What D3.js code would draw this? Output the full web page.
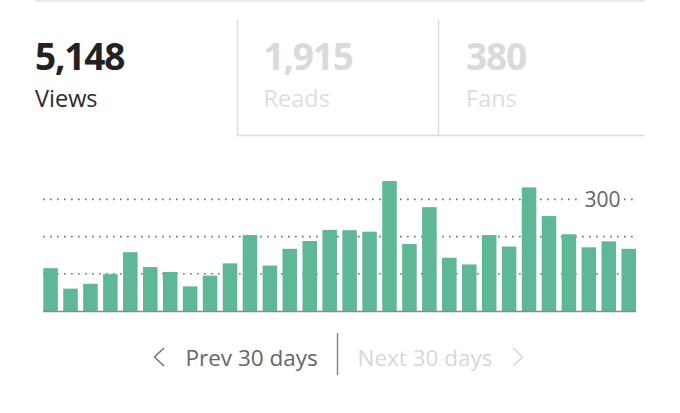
<!DOCTYPE html>
<html>
<head>
<meta charset="utf-8">
<script src="https://cdn.jsdelivr.net/npm/d3@7"></script>
<style>
  html, body { margin: 0; padding: 0; background: #fff; }
  svg { display: block; font-family: "Open Sans", "Noto Sans", sans-serif; }
</style>
</head>
<body>
<svg id="chart" width="680" height="413"></svg>
<script>
// ---- data ----
const days = [1,2,3,4,5,6,7,8,9,10,11,12,13,14,15,16,17,18,19,20,21,22,23,24,25,26,27,28,29,30];
const views = [115,60,73,99,158,118,105,66,95,128,204,122,167,188,218,217,213,349,180,279,143,125,204,173,332,255,206,171,187,167];
const gridTicks = [100, 200, 300];
const labeledTicks = [300];
const statValues = ["5,148", "1,915", "380"];
const statLabels = ["Views", "Reads", "Fans"];
const activeStat = 0;
const navLabels = ["Prev 30 days", "Next 30 days"];

// ---- layout ----
const svg = d3.select("#chart");

// top rule
svg.append("line").attr("x1", 35).attr("x2", 645).attr("y1", 1).attr("y2", 1)
  .attr("stroke", "#e2e2e2").attr("stroke-width", 1.5);

// stat boxes
const boxX = [35, 263.5, 466];
const divX = [237.5, 438.5];
divX.forEach(x => {
  svg.append("line").attr("x1", x).attr("x2", x).attr("y1", 20).attr("y2", 136)
    .attr("stroke", "#dcdcdc").attr("stroke-width", 1.5);
});
svg.append("line").attr("x1", 237.5).attr("x2", 645).attr("y1", 135.5).attr("y2", 135.5)
  .attr("stroke", "#dcdcdc").attr("stroke-width", 1.5);

statValues.forEach((v, i) => {
  const active = i === activeStat;
  svg.append("text").attr("x", boxX[i]).attr("y", 70)
    .attr("font-size", 37).attr("font-weight", 700)
    .attr("letter-spacing", -1.2)
    .attr("fill", active ? "#222" : "#dadada").text(v);
  svg.append("text").attr("x", boxX[i]).attr("y", 107)
    .attr("font-size", 23.5)
    .attr("fill", active ? "#2a2a2a" : "#dedede").text(statLabels[i]);
});

// chart
const x = d3.scaleBand().domain(days).range([43.3, 636]).paddingInner(0.27).paddingOuter(0);
const y = d3.scaleLinear().domain([0, 300]).range([311, 199.3]);

const grid = svg.append("g");
grid.selectAll("line").data(gridTicks).join("line")
  .attr("x1", 43).attr("x2", 636)
  .attr("y1", d => y(d)).attr("y2", d => y(d))
  .attr("stroke", "#777").attr("stroke-width", 1.7)
  .attr("stroke-dasharray", "1.7 5.3")
  .attr("stroke-linecap", "butt");

svg.append("g").selectAll("rect").data(views).join("rect")
  .attr("x", (d, i) => x(days[i]))
  .attr("width", x.bandwidth())
  .attr("y", d => y(d))
  .attr("height", d => y(0) - y(d))
  .attr("fill", "#5fb895");

// baseline
svg.append("line").attr("x1", 43).attr("x2", 636).attr("y1", y(0) + 0.5).attr("y2", y(0) + 0.5)
  .attr("stroke", "#8a8a8a").attr("stroke-width", 1.3);

// tick label with white background
labeledTicks.forEach(t => {
  const g = svg.append("g");
  g.append("rect").attr("x", 582).attr("y", y(t) - 12).attr("width", 41).attr("height", 24).attr("fill", "#fff");
  g.append("text").attr("x", 584.5).attr("y", y(t)).attr("dy", "0.37em")
    .attr("font-size", 21).attr("fill", "#666").text(t);
});

// navigation
svg.append("path").attr("d", "M164,348 L154.5,357 L164,366")
  .attr("fill", "none").attr("stroke", "#777").attr("stroke-width", 1.6);
svg.append("text").attr("x", 185.5).attr("y", 366).attr("font-size", 22.5)
  .attr("fill", "#666").text(navLabels[0]);
svg.append("line").attr("x1", 337.5).attr("x2", 337.5).attr("y1", 333).attr("y2", 375)
  .attr("stroke", "#888").attr("stroke-width", 1.5);
svg.append("text").attr("x", 357.5).attr("y", 366).attr("font-size", 22.5)
  .attr("fill", "#d8d8d8").text(navLabels[1]);
svg.append("path").attr("d", "M513,348 L522.5,357 L513,366")
  .attr("fill", "none").attr("stroke", "#d8d8d8").attr("stroke-width", 1.6);
</script>
</body>
</html>
